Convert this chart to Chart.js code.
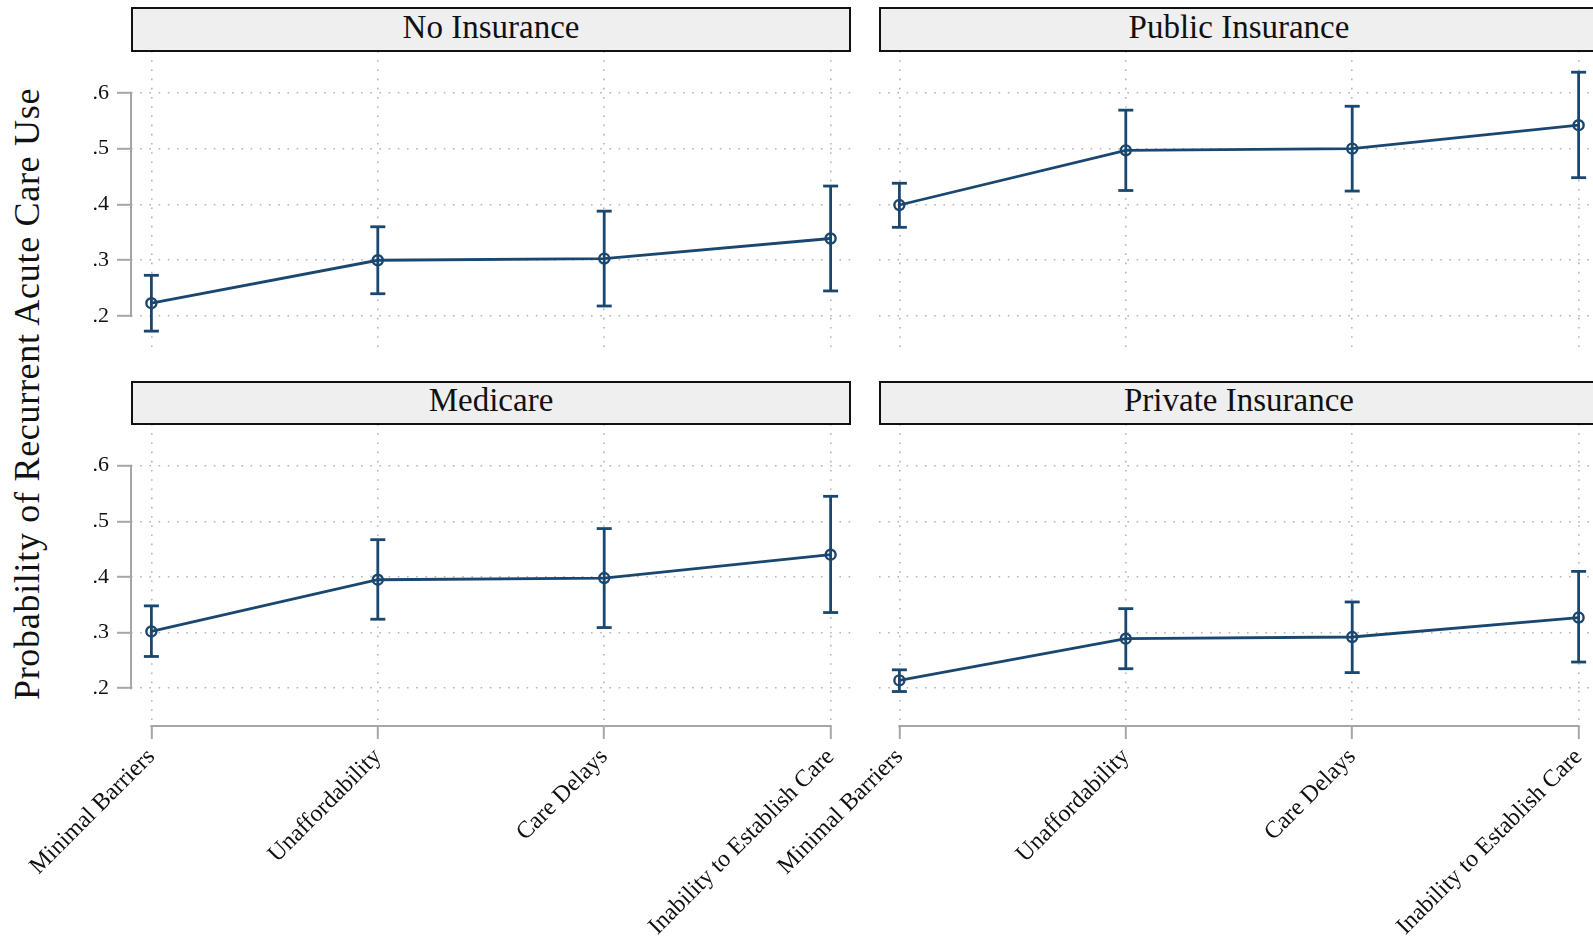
<!DOCTYPE html>
<html>
<head>
<meta charset="utf-8">
<script src="https://cdn.jsdelivr.net/npm/chart.js@4.4.1/dist/chart.umd.min.js"></script>
<style>
  html, body { margin: 0; padding: 0; width: 1593px; height: 950px; overflow: hidden; background: #ffffff; }
  canvas.panel { position: absolute; left: 0; top: 0; }
  .strip { position: absolute; box-sizing: border-box; border: 2px solid #111; background: #efefef;
           font-family: "Liberation Serif", "Times New Roman", serif; font-size: 33px; color: #111;
           display: flex; align-items: center; justify-content: center; line-height: 1; padding-bottom: 5px; }
  #ytitle { position: absolute; width: 700px; height: 44px; left: -323px; top: 372px;
            transform: rotate(-90deg); transform-origin: 50% 50%; text-align: center;
            font-family: "Liberation Serif", "Times New Roman", serif; font-size: 36px; line-height: 44px;
            color: #111; letter-spacing: 0.7px; white-space: nowrap; }
</style>
</head>
<body>
<div id="ytitle">Probability of Recurrent Acute Care Use</div>
<canvas class="panel" id="p0" width="1620" height="950"></canvas>
<canvas class="panel" id="p1" width="1620" height="950"></canvas>
<canvas class="panel" id="p2" width="1620" height="950"></canvas>
<canvas class="panel" id="p3" width="1620" height="950"></canvas>
<div class="strip" id="s0"></div>
<div class="strip" id="s1"></div>
<div class="strip" id="s2"></div>
<div class="strip" id="s3"></div>
<script>
// ---------------- data ----------------
const panelTitles = ['No Insurance', 'Public Insurance', 'Medicare', 'Private Insurance'];
const categories = ['Minimal Barriers', 'Unaffordability', 'Care Delays', 'Inability to Establish Care'];
const yTickValues = [0.2, 0.3, 0.4, 0.5, 0.6];
const yTickLabels = ['.2', '.3', '.4', '.5', '.6'];

const noInsEst = [0.223, 0.300, 0.303, 0.339];
const noInsLo  = [0.173, 0.240, 0.218, 0.245];
const noInsHi  = [0.273, 0.360, 0.388, 0.433];

const publicEst = [0.399, 0.497, 0.500, 0.542];
const publicLo  = [0.359, 0.425, 0.424, 0.448];
const publicHi  = [0.438, 0.569, 0.576, 0.637];

const medicareEst = [0.302, 0.395, 0.398, 0.440];
const medicareLo  = [0.257, 0.324, 0.309, 0.336];
const medicareHi  = [0.348, 0.467, 0.487, 0.545];

const privateEst = [0.214, 0.289, 0.292, 0.327];
const privateLo  = [0.194, 0.235, 0.228, 0.247];
const privateHi  = [0.233, 0.343, 0.355, 0.410];

// ---------------- style / layout ----------------
const NAVY = '#1a476f';
const GRID = '#b4b4b4';
const AXIS = '#a6a6a6';
const SERIF = '"Liberation Serif", "Times New Roman", serif';
const CW = 1620, CH = 950;
const X_MIN = -0.09, X_MAX = 3.09;
const Y_MIN = 0.132, Y_MAX = 0.675;

const boxes = [
  { left: 131, right: 851,  top: 51,  bottom: 354, yLabels: true,  xLabels: false },
  { left: 879, right: 1599, top: 51,  bottom: 354, yLabels: false, xLabels: false },
  { left: 131, right: 851,  top: 424, bottom: 726, yLabels: true,  xLabels: true  },
  { left: 879, right: 1599, top: 424, bottom: 726, yLabels: false, xLabels: true  }
];
const strips = [
  { left: 131, top: 7,   width: 720, height: 45 },
  { left: 879, top: 7,   width: 760, height: 45 },
  { left: 131, top: 381, width: 720, height: 44 },
  { left: 879, top: 381, width: 760, height: 44 }
];

const axisLines = {
  id: 'axisLines',
  beforeDatasetsDraw(chart, args, opts) {
    const { ctx, chartArea, scales } = chart;
    ctx.save();
    ctx.strokeStyle = AXIS;
    ctx.lineWidth = 2;
    ctx.lineCap = 'square';
    if (opts.yLine) {
      const y0 = scales.y.getPixelForValue(yTickValues[0]);
      const y1 = scales.y.getPixelForValue(yTickValues[yTickValues.length - 1]);
      ctx.beginPath(); ctx.moveTo(chartArea.left, y0); ctx.lineTo(chartArea.left, y1); ctx.stroke();
    }
    if (opts.xLine) {
      const x0 = scales.x.getPixelForValue(0);
      const x1 = scales.x.getPixelForValue(categories.length - 1);
      ctx.beginPath(); ctx.moveTo(x0, chartArea.bottom); ctx.lineTo(x1, chartArea.bottom); ctx.stroke();
    }
    ctx.restore();
  }
};

function makePanel(idx, est, lo, hi) {
  const box = boxes[idx];
  const datasets = [];
  est.forEach((_, i) => {
    datasets.push({
      data: [{ x: i, y: lo[i] }, { x: i, y: hi[i] }],
      showLine: true, borderColor: NAVY, borderWidth: 2.8,
      pointStyle: 'line', pointRadius: 7.5, pointHoverRadius: 7.5,
      pointBorderWidth: 2.8, pointBorderColor: NAVY, pointBackgroundColor: NAVY,
      order: 2, clip: false
    });
  });
  datasets.push({
    data: est.map((v, i) => ({ x: i, y: v })),
    showLine: true, borderColor: NAVY, borderWidth: 2.8,
    pointStyle: 'circle', pointRadius: 5, pointHoverRadius: 5,
    pointBorderWidth: 2.4, pointBorderColor: NAVY, pointBackgroundColor: 'rgba(0,0,0,0)',
    order: 0, clip: false
  });

  new Chart(document.getElementById('p' + idx), {
    type: 'scatter',
    data: { datasets },
    plugins: [axisLines],
    options: {
      responsive: false, animation: false, devicePixelRatio: 1,
      layout: { padding: { left: 0, top: box.top, right: CW - box.right, bottom: 0 } },
      plugins: {
        legend: { display: false }, tooltip: { enabled: false }, title: { display: false },
        axisLines: { yLine: box.yLabels, xLine: box.xLabels }
      },
      scales: {
        x: {
          type: 'linear', min: X_MIN, max: X_MAX,
          afterBuildTicks: s => { s.ticks = categories.map((_, i) => ({ value: i })); },
          afterFit: s => { s.height = CH - box.bottom; },
          ticks: {
            display: box.xLabels, autoSkip: false, minRotation: 45, maxRotation: 45, padding: 4,
            color: '#111', font: { family: SERIF, size: 24 },
            callback: v => categories[Math.round(v)]
          },
          grid: { color: GRID, lineWidth: 1.6, drawTicks: box.xLabels, tickLength: 13,
                  tickColor: AXIS, tickWidth: 2, tickBorderDash: [] },
          border: { display: false, dash: [1.6, 7.6] }
        },
        y: {
          type: 'linear', min: Y_MIN, max: Y_MAX,
          afterBuildTicks: s => { s.ticks = yTickValues.map(v => ({ value: v })); },
          afterFit: s => { s.width = box.left; },
          ticks: {
            display: box.yLabels, padding: 8, color: '#111', font: { family: SERIF, size: 22 },
            callback: v => yTickLabels[yTickValues.indexOf(v)]
          },
          grid: { color: GRID, lineWidth: 1.6, drawTicks: box.yLabels, tickLength: 14,
                  tickColor: AXIS, tickWidth: 2, tickBorderDash: [] },
          border: { display: false, dash: [1.6, 7.6] }
        }
      }
    }
  });

  const s = document.getElementById('s' + idx);
  const st = strips[idx];
  s.style.left = st.left + 'px'; s.style.top = st.top + 'px';
  s.style.width = st.width + 'px'; s.style.height = st.height + 'px';
  s.textContent = panelTitles[idx];
  // center text over the 720px panel width (right strips run past the window edge)
  s.style.paddingRight = (st.width - 720) + 'px';
}

makePanel(0, noInsEst, noInsLo, noInsHi);
makePanel(1, publicEst, publicLo, publicHi);
makePanel(2, medicareEst, medicareLo, medicareHi);
makePanel(3, privateEst, privateLo, privateHi);
</script>
</body>
</html>
